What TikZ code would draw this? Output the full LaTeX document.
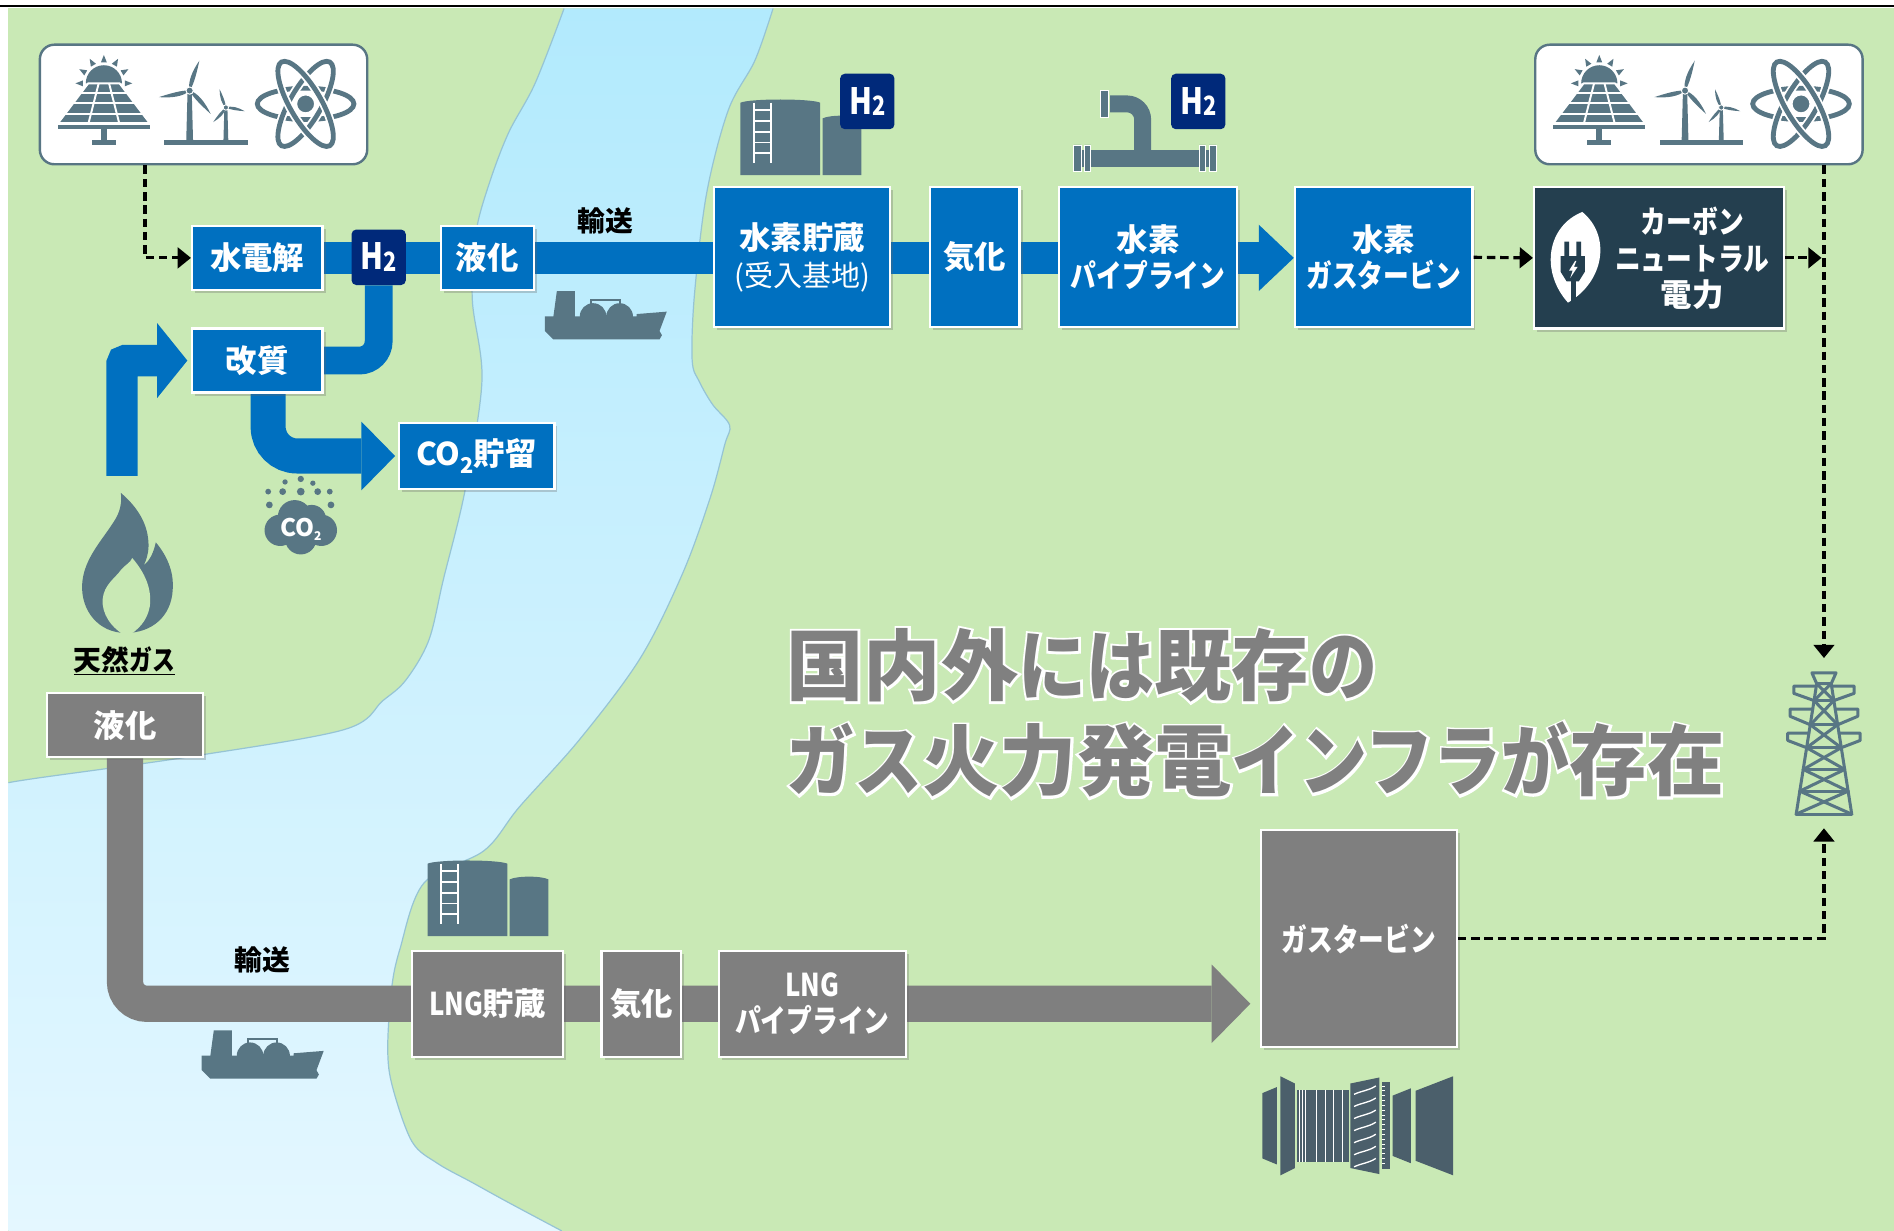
\documentclass[tikz,border=0pt]{standalone}
\usepackage{fontspec}
\usepackage{graphicx}
\usetikzlibrary{arrows.meta,shadows,calc}
\setmainfont{Noto Sans CJK JP}
\newfontfamily\jpk{Noto Sans CJK JP}
\newfontfamily\jpn{Noto Sans CJK JP}[FakeStretch=0.82]
\newfontfamily\jpw{Noto Sans CJK JP}[FakeStretch=0.88]
% emboldened faces used for the white rim behind the headline
\newfontfamily\jpkrim{Noto Sans CJK JP}[FakeBold=6]
\newfontfamily\jpwrim{Noto Sans CJK JP}[FakeStretch=0.88, FakeBold=6]

\definecolor{land}{RGB}{201,233,181}
\definecolor{riverA}{RGB}{178,234,253}
\definecolor{riverB}{RGB}{228,247,255}
\definecolor{bankline}{RGB}{150,196,212}
\definecolor{hblue}{RGB}{0,112,192}
\definecolor{hnavy}{RGB}{0,41,122}
\definecolor{slate}{RGB}{88,118,132}
\definecolor{cnfill}{RGB}{36,63,79}
\definecolor{lgray}{RGB}{127,127,127}
\definecolor{turb}{RGB}{75,95,107}
\definecolor{bigtext}{RGB}{128,128,128}

\newcommand\fK{\fontsize{26}{30}\selectfont\jpk\bfseries}
\newcommand\fL{\fontsize{23}{28}\selectfont\jpk\bfseries}
\newcommand\hH{{\jpn\bfseries\fontsize{30}{30}\selectfont H\raisebox{-1.5pt}{\fontsize{22}{22}\selectfont 2}}}

% headline: kanji / kana faces, plain and rimmed
\newcommand\BK{\fontsize{64}{64}\selectfont\jpk\bfseries}
\newcommand\BN{\fontsize{64}{64}\selectfont\jpw\bfseries}
\newcommand\RK{\fontsize{64}{64}\selectfont\jpkrim\bfseries}
\newcommand\RN{\fontsize{64}{64}\selectfont\jpwrim\bfseries}

\pgfdeclarelayer{landlayer}
\pgfdeclarelayer{bandlayer}
\pgfsetlayers{landlayer,bandlayer,main}

\tikzset{
  box/.style={draw=white, line width=1.8pt, inner sep=0pt, align=center, text=white, font=\fK,
    drop shadow={shadow xshift=2.5pt, shadow yshift=-2.5pt, opacity=0.3, fill=black!60}},
  bluebox/.style={box, fill=hblue},
  graybox/.style={box, fill=lgray},
  cnbox/.style={box, fill=cnfill},
  renbox/.style={draw=slate, line width=2pt, fill=white, rounded corners=12pt, inner sep=0pt},
  h2badge/.style={fill=hnavy, rounded corners=4pt, minimum width=45pt, minimum height=46pt, inner sep=0pt, text=white},
  lbl/.style={font=\fL, text=black, inner sep=1pt},
  hband/.style={hblue},
  gband/.style={lgray},
  dashln/.style={black, line width=2.6pt, dash pattern=on 7pt off 4pt},
  dasharr/.style={dashln, -{Triangle[length=11pt,width=17pt]}},
  % solar panel with rising sun
  solar/.pic={
    \fill[slate] (-15,0) arc[start angle=180, end angle=360, radius=15] -- cycle;
    \foreach \a in {180,210,...,360}
      \fill[slate] ({\a-8}:17.5) -- (\a:23.5) -- ({\a+8}:17.5) -- cycle;
    \fill[slate, draw=white, line width=1.6pt, line join=round] (-13,0) -- (13,0) -- (38,33) -- (-38,33) -- cycle;
    \foreach \yy in {8,16.5,25}
      \draw[white, line width=1.6pt] ({-13-25*\yy/33},\yy) -- ({13+25*\yy/33},\yy);
    \draw[white, line width=1.6pt] (-4.3,0) -- (-12.7,33) (4.3,0) -- (12.7,33);
    \fill[slate] (-38,34.5) rectangle (38,38);
    \fill[slate] (-2.5,38) rectangle (2.5,47);
    \fill[slate] (-10,47) rectangle (10,51);
  },
  % two wind turbines on one base
  windfarm/.pic={
    \fill[slate] (-1.8,3) -- (1.8,3) -- (2.8,41) -- (-2.8,41) -- cycle;
    \foreach \a in {72,192,312}
      \fill[slate, rotate=\a] (0,0) .. controls (6,-3.8) and (16,-3) .. (26,0) .. controls (16,1) and (6,1.8) .. (0,0) -- cycle;
    \fill[slate, draw=white, line width=0.8pt] (0,0) circle[radius=3];
    \begin{scope}[shift={(30,14)}]
      \fill[slate] (-1.3,2) -- (1.3,2) -- (2,27) -- (-2,27) -- cycle;
      \foreach \a in {109,229,349}
        \fill[slate, rotate=\a] (0,0) .. controls (4,-2.6) and (10,-2) .. (16,0) .. controls (10,0.8) and (4,1.2) .. (0,0) -- cycle;
      \fill[slate, draw=white, line width=0.7pt] (0,0) circle[radius=2.2];
    \end{scope}
    \fill[slate] (-21,41) rectangle (48,45);
  },
  % atom symbol
  atom/.pic={
    \foreach \r in {0,60,120} {
      \draw[white, line width=7pt, rotate=\r] (0,0) ellipse[x radius=40, y radius=13];
      \draw[slate, line width=4pt, rotate=\r] (0,0) ellipse[x radius=40, y radius=13];
    }
    \fill[slate, draw=white, line width=2pt] (0,0) circle[radius=8];
  },
  % storage tanks with ladder
  tank/.pic={
    \fill[slate] (0,0) -- (0,-60) .. controls (8,-63.5) and (58,-63.5) .. (66,-60) -- (66,0) -- cycle;
    \fill[slate] (68,0) -- (68,-47) .. controls (74,-50) and (94,-50) .. (100,-47) -- (100,0) -- cycle;
    \draw[white, line width=1.6pt] (11,-60) -- (11,-10) (25,-60) -- (25,-10);
    \foreach \yy in {-54,-45,-36,-27,-18}
      \draw[white, line width=1.6pt] (11,\yy) -- (25,\yy);
  },
  % pipe with elbow and flanges
  pipe/.pic={
    \fill[slate] (3,-7) rectangle (115,7);
    \fill[slate, draw=white, line width=0.7pt] (0,-11) rectangle (6,11) (9,-11) rectangle (14,11)
      (104,-11) rectangle (109,11) (112,-11) rectangle (118,11);
    \fill[slate] (50,-6) -- (50,-32) arc[start angle=0, end angle=-90, radius=6] -- (30,-38) -- (30,-52)
      -- (44,-52) arc[start angle=-90, end angle=0, radius=20] -- (64,-6) -- cycle;
    \fill[slate, draw=white, line width=0.7pt] (22,-56) rectangle (29,-34);
  },
  % LNG carrier
  ship/.pic={
    \fill[slate] (10,0) -- (25,0) -- (25,22) -- (7,22) -- cycle;
    \fill[slate] (40,21) circle[radius=11] (62,21) circle[radius=11];
    \draw[slate, line width=1.6pt] (38,13) -- (38,7) -- (62,7) -- (62,13);
    \fill[slate] (0,21) -- (76,21) -- (76,19) -- (101,17) -- (95,33) -- (97,36.5) -- (95,40) -- (7,40) -- (0,33) -- cycle;
  },
  % leaf with power plug
  leaf/.pic={
    \fill[white, rotate=-9] (0,-38) .. controls (27,-22) and (27,16) .. (0,38) .. controls (-27,16) and (-27,-22) .. (0,-38) -- cycle;
    \begin{scope}[shift={(-1,0)}]
      \fill[cnfill] (-8,-13) rectangle (-4,0) (2,-13) rectangle (6,0);
      \fill[cnfill] (-11,-1) -- (9,-1) -- (9,12) -- (4,20) -- (-6,20) -- (-11,12) -- cycle;
      \fill[cnfill] (-2.5,19) rectangle (1.5,37);
      \fill[white] (1,3) -- (-4,11) -- (-1,11) -- (-3,17) -- (3,8) -- (0,8) -- (2,3) -- cycle;
    \end{scope}
  },
  % transmission tower
  tower/.pic={
    \begin{scope}[slate, line width=2.5pt, line join=round, line cap=round]
      \draw (-10,0) -- (10,0) -- (6,9) -- (-6,9) -- cycle;
      \draw (-6,9) -- (-23,117) (6,9) -- (23,117);
      \foreach \ya/\yb in {9/23, 23/43, 43/62, 62/80, 80/98, 98/117} {
        \draw ({-(6+17*(\ya-9)/108)},\ya) -- ({6+17*(\yb-9)/108},\yb);
        \draw ({6+17*(\ya-9)/108},\ya) -- ({-(6+17*(\yb-9)/108)},\yb);
        \draw ({-(6+17*(\yb-9)/108)},\yb) -- ({6+17*(\yb-9)/108},\yb);
      }
      \foreach \ya/\yb/\xe in {11/23/25, 30/43/28, 50/62/30} {
        \draw ({-(6+17*(\ya-9)/108)},\ya) -- (-\xe,\ya) -- (-\xe,\ya+6) -- ({-(6+17*(\yb-9)/108)},\yb);
        \draw ({6+17*(\ya-9)/108},\ya) -- (\xe,\ya) -- (\xe,\ya+6) -- ({6+17*(\yb-9)/108},\yb);
      }
    \end{scope}
  },
  % natural gas flame
  flame/.pic={
    \fill[slate] (0,0) .. controls (-22,0) and (-37,-18) .. (-36,-40) .. controls (-35,-62) and (-18,-78) .. (-8,-95)
      .. controls (-4,-102) and (-3,-110) .. (-4,-116) .. controls (10,-104) and (19,-90) .. (19,-72)
      .. controls (19,-66) and (17,-60) .. (15,-56) .. controls (20,-60) and (23,-66) .. (25,-75)
      .. controls (36,-62) and (40,-48) .. (39,-36) .. controls (38,-14) and (22,0) .. (0,0) -- cycle;
    \fill[land] (1,3) .. controls (-12,-4) and (-20,-16) .. (-19,-28) .. controls (-18,-40) and (-8,-46) .. (-4,-52)
      .. controls (-1,-56) and (4,-58) .. (5.5,-62) .. controls (16,-50) and (22,-36) .. (20,-22)
      .. controls (18,-10) and (10,-2) .. (1,3) -- cycle;
  },
  % CO2 cloud
  cloud/.pic={
    \fill[slate] (-17,2) circle[radius=13] (17,2) circle[radius=13] (-5,-9) circle[radius=14]
      (9,-7) circle[radius=12] (0,9) circle[radius=13];
    \foreach \dx/\dy/\r in {-13/-38/2.2, 0/-40.5/2.6, 10/-37/2.2, -27/-30/2.4, -15/-30/2.8,
        0/-30/3.2, 14/-30/2.8, 24/-30/2.4, -26/-19/2.8, 25/-19/2.8}
      \fill[slate] (\dx,\dy) circle[radius=\r];
    \node[text=white, inner sep=0, font=\jpk\bfseries\fontsize{20}{20}\selectfont] (cotxt) at (0,1)
      {CO\raisebox{-3pt}{\fontsize{10}{10}\selectfont 2}};
  },
  % gas turbine rotor
  turbine/.pic={
    \fill[turb] (0,14) -- (12,9) -- (12,73) -- (0,68) -- cycle;
    \fill[turb] (15,0) -- (27,6) -- (27,76) -- (15,82) -- cycle;
    \fill[turb] (29,11) rectangle (72,71);
    \foreach \xx in {30.5,33,36,45,52,59,66}
      \draw[white, line width=0.6pt] (\xx,11) -- (\xx,71);
    \fill[turb] (73,6) -- (97,1) -- (97,81) -- (73,76) -- cycle;
    \foreach \yy in {12,22,32,42,52,62,72}
      \draw[white, line width=1.1pt] (76,\yy+3) .. controls (82,\yy) and (88,\yy) .. (94,\yy-4);
    \fill[turb] (99,5) rectangle (106,77);
    \foreach \yy in {8,12,...,74}
      \draw[white, line width=0.5pt] (99,\yy) -- (101.5,\yy);
    \fill[turb] (108,16) -- (123,10) -- (123,72) -- (108,66) -- cycle;
    \fill[turb] (127,12) -- (158,0) -- (158,82) -- (127,70) -- cycle;
  }
}

\begin{document}
\begin{tikzpicture}[x=1pt,y=-1pt]
\useasboundingbox (0,0) rectangle (1568,1019);

% ---------- land and river ----------
\begin{pgfonlayer}{landlayer}
  \fill[white] (0,0) rectangle (1568,1019);
  \fill[land] (7,7) rectangle (1568,1019);
  \shade[top color=riverA, bottom color=riverB]
    (467,7) -- plot[smooth, tension=0.55] coordinates {(467,7) (443,69) (421,110) (405,152) (394,193)
      (391,248) (399,315) (385,406) (367,480) (355,530) (336,563) (317,580) (285,604) (160,626) (32,644) (7,648)}
    -- (7,1019) -- (465,1019)
    -- plot[smooth, tension=0.55] coordinates {(465,1019) (420,995) (391,979) (362,963) (341,945) (325,900)
      (321,869) (324,820) (331,786) (351,731) (401,704) (430,668) (480,612) (530,545) (565,475) (588,412)
      (600,368) (604,352) (590,335) (579,316) (573,298) (575,243) (585,160) (603,91) (625,50) (640,7)}
    -- cycle;
  \draw[bankline, line width=1pt] plot[smooth, tension=0.55] coordinates {(467,7) (443,69) (421,110) (405,152)
      (394,193) (391,248) (399,315) (385,406) (367,480) (355,530) (336,563) (317,580) (285,604) (160,626) (32,644) (7,648)};
  \draw[bankline, line width=1pt] plot[smooth, tension=0.55] coordinates {(465,1019) (420,995) (391,979) (362,963)
      (341,945) (325,900) (321,869) (324,820) (331,786) (351,731) (401,704) (430,668) (480,612) (530,545) (565,475)
      (588,412) (600,368) (604,352) (590,335) (579,316) (573,298) (575,243) (585,160) (603,91) (625,50) (640,7)};
  \draw[black, line width=1.3pt] (0,5) -- (1568,5);
\end{pgfonlayer}

% ---------- renewable sources ----------
\node[renbox, minimum width=271pt, minimum height=99pt] (ren1) at (168.5,86.5) {};
\node[renbox, minimum width=271pt, minimum height=99pt] (ren2) at (1406.5,86.5) {};
\pic at (86,69) {solar};
\pic at (157,75) {windfarm};
\pic at (253,86) {atom};
\pic at (1324,69) {solar};
\pic at (1395,75) {windfarm};
\pic at (1491,86) {atom};

% ---------- hydrogen chain ----------
\node[bluebox, minimum width=108pt, minimum height=53pt] (elec) at (213,213.5) {水電解};
\node[h2badge] (h2) at (313.5,213) {\hH};
\node[bluebox, minimum width=77pt, minimum height=53pt] (liq1) at (403.5,213.5) {液化};
\node[bluebox, minimum width=108pt, minimum height=53pt] (kaishitsu) at (213,298.5) {改質};
\node[bluebox, minimum width=129pt, minimum height=55pt] (co2) at (394.5,377.5)
  {CO\raisebox{-6pt}{\fontsize{18}{18}\selectfont 2}貯留};
\node[bluebox, minimum width=146pt, minimum height=116pt] (store) at (664,213)
  {水素貯蔵\\{\mdseries\fontsize{24}{30}\selectfont (受入基地)}};
\node[bluebox, minimum width=74pt, minimum height=116pt] (vap1) at (807,213) {気化};
\node[bluebox, minimum width=147pt, minimum height=116pt] (h2pipe) at (950.5,213) {水素\\{\jpn パイプライン}};
\node[bluebox, minimum width=147pt, minimum height=116pt] (h2gt) at (1145.5,213) {水素\\{\jpn ガスタービン}};
\node[cnbox, minimum width=207pt, minimum height=117pt] (cn) at (1373.5,213.5) {};
\node[align=center, text=white, inner sep=0pt, font=\fK] (cntext) at (1401,214)
  {{\jpn カーボン}\\{\jpn ニュートラル}\\電力};
\pic at (1304,213) {leaf};

\pic at (613,145) {tank};
\node[h2badge] (h2b) at (718,84) {\hH};
\pic at (889,131) {pipe};
\node[h2badge] (h2c) at (992,84) {\hH};
\pic at (451,241) {ship};
\node[lbl] (ship1lbl) at (501,183) {輸送};

% ---------- natural gas chain ----------
\pic at (104,524) {flame};
\pic at (249,437) {cloud};
\node[lbl] (ngas) at (103,547) {\underline{天然{\jpn ガス}}};
\node[graybox, minimum width=129pt, minimum height=53pt] (lq2) at (103.5,600.5) {液化};
\node[graybox, minimum width=125pt, minimum height=88pt] (lngst) at (403.5,831) {{\jpn LNG}貯蔵};
\node[graybox, minimum width=66pt, minimum height=88pt] (vap2) at (531,831) {気化};
\node[graybox, minimum width=155pt, minimum height=88pt] (lngpipe) at (672.5,831) {{\jpn LNG}\\{\jpn パイプライン}};
\node[graybox, minimum width=162pt, minimum height=180pt] (gasturb) at (1125,777) {{\jpn ガスタービン}};
\pic at (354,775) {tank};
\pic at (167,853) {ship};
\node[lbl] (ship2lbl) at (217,795) {輸送};
\pic at (1045,891) {turbine};

% ---------- grid ----------
\node[minimum width=60pt, minimum height=120pt, inner sep=0pt] (tower) at (1510,616.5) {};
\pic at (1510,557) {tower};

% ---------- headline: white rim first, grey text on top ----------
\node[anchor=base west, inner sep=0pt, text=white] (rim1) at (651,575) {\RK 国内外\RN には\RK 既存\RN の};
\node[anchor=base west, inner sep=0pt, text=white] (rim2) at (651,654) {\RN ガス\RK 火力発電\RN インフラが\RK 存在};
\node[anchor=base west, inner sep=0pt, text=bigtext] (msg1) at (651,575) {\BK 国内外\BN には\BK 既存\BN の};
\node[anchor=base west, inner sep=0pt, text=bigtext] (msg2) at (651,654) {\BN ガス\BK 火力発電\BN インフラが\BK 存在};

% ---------- flow bands ----------
\begin{pgfonlayer}{bandlayer}
  \coordinate (bhead) at ($(h2gt.west |- elec.east)+(-29,0)$);
  \draw[hband, line width=27pt] (elec.east) -- (bhead);
  \fill[hblue] ($(bhead)+(0,-27.5)$) -- (h2gt.west |- elec.east) -- ($(bhead)+(0,27.5)$) -- cycle;

  \coordinate (gasin) at (101,394);
  \coordinate (ktip) at ($(kaishitsu.west)+(-3,0)$);
  \coordinate (khead) at ($(ktip)+(-25,0)$);
  \draw[hband, line width=26pt, rounded corners=3pt] (gasin) -- (gasin |- khead) -- (khead);
  \fill[hblue] ($(khead)+(0,-31)$) -- (ktip) -- ($(khead)+(0,31)$) -- cycle;

  \draw[hband, line width=23pt, rounded corners=16pt] (kaishitsu.east) -- (kaishitsu.east -| h2.south) -- (h2.south);

  \coordinate (cstart) at ([xshift=9pt]kaishitsu.south);
  \coordinate (ctip) at ($(co2.west)+(-2,0)$);
  \coordinate (chead) at ($(ctip)+(-28,0)$);
  \draw[hband, line width=29pt, rounded corners=24pt] (cstart) -- (cstart |- chead) -- (chead);
  \fill[hblue] ($(chead)+(0,-28.5)$) -- (ctip) -- ($(chead)+(0,28.5)$) -- cycle;

  \coordinate (gtip) at ($(gasturb.west |- lngst.west)+(-8,0)$);
  \coordinate (ghead) at ($(gtip)+(-32,0)$);
  \draw[gband, line width=30pt, rounded corners=18pt] (lq2.south) -- (lq2.south |- ghead) -- (ghead);
  \fill[lgray] ($(ghead)+(0,-32.5)$) -- (gtip) -- ($(ghead)+(0,32.5)$) -- cycle;
\end{pgfonlayer}

% ---------- power connections ----------
\coordinate (rdrop1) at ([xshift=-48.5pt]ren1.south);
\draw[dasharr] (rdrop1) |- (elec.west);
\draw[dasharr] (h2gt.east) -- (cn.west);
\coordinate (rdrop2) at ([xshift=103.5pt]ren2.south);
\draw[dasharr, shorten >=11.5pt] (rdrop2) -- (rdrop2 |- tower.north);
\draw[dasharr, shorten >=2pt] (cn.east) -- (cn.east -| rdrop2);
\draw[dasharr, shorten >=9pt] (gasturb.east) -| (tower.south);
\end{tikzpicture}
\end{document}
